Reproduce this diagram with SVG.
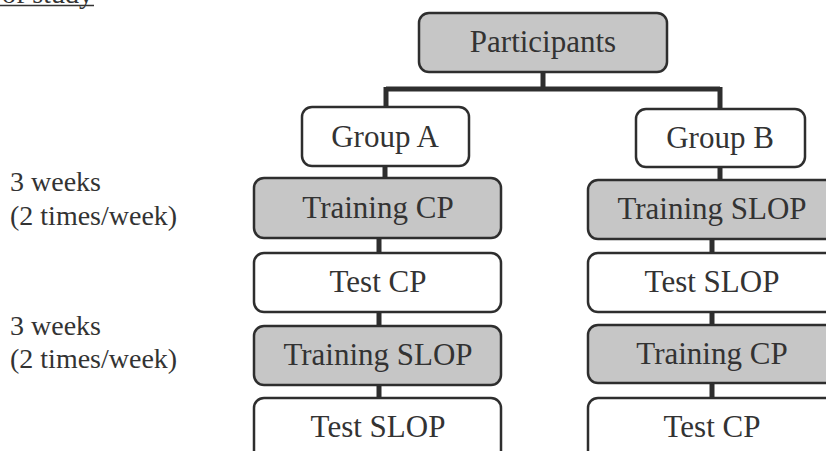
<svg xmlns="http://www.w3.org/2000/svg" width="826" height="451" viewBox="0 0 826 451">
<style>
.box{stroke:#2e2e2e;stroke-width:2.5}
.g{fill:#c6c6c6}
.w{fill:#ffffff}
.t{font-family:"Liberation Serif","Times New Roman",serif;font-size:31px;fill:#333;text-anchor:middle}
.lbl{font-family:"Liberation Serif","Times New Roman",serif;font-size:28px;fill:#333}
.c{stroke:#2e2e2e;fill:none}
</style>
<rect width="826" height="451" fill="#fff"/>
<g id="caption">
<text class="lbl" x="2" y="3">of study</text>
<line x1="0" y1="5.5" x2="94" y2="5.5" stroke="#333" stroke-width="1.5"/>
</g>
<g id="labels">
<text class="lbl" x="10" y="191">3 weeks</text>
<text class="lbl" x="10" y="225">(2 times/week)</text>
<text class="lbl" x="10" y="335">3 weeks</text>
<text class="lbl" x="10" y="368">(2 times/week)</text>
</g>
<g id="connectors">
<path class="c" stroke-width="5" d="M543 72V89M386 89H720M386 87V107M720 87V109"/>
<path class="c" stroke-width="5" d="M385 166V178M379 238V253M379 312V326M379 385V398"/>
<path class="c" stroke-width="5" d="M720 167V180M712 239V253M712 312V325M712 383V398"/>
</g>
<g id="participants">
<rect class="box g" x="419" y="13" width="248" height="59" rx="10"/>
<text class="t" x="543" y="52">Participants</text>
</g>
<g id="groupA">
<rect class="box w" x="302" y="107" width="167" height="59" rx="10"/>
<text class="t" x="385" y="147">Group A</text>
</g>
<g id="groupB">
<rect class="box w" x="636" y="109" width="169" height="58" rx="10"/>
<text class="t" x="720" y="148">Group B</text>
</g>
<g id="a-training-cp">
<rect class="box g" x="254" y="178" width="247" height="60" rx="10"/>
<text class="t" x="378" y="218">Training CP</text>
</g>
<g id="a-test-cp">
<rect class="box w" x="254" y="253" width="247" height="59" rx="10"/>
<text class="t" x="378" y="292">Test CP</text>
</g>
<g id="a-training-slop">
<rect class="box g" x="254" y="326" width="247" height="59" rx="10"/>
<text class="t" x="378" y="365">Training SLOP</text>
</g>
<g id="a-test-slop">
<rect class="box w" x="254" y="398" width="247" height="70" rx="10"/>
<text class="t" x="378" y="437">Test SLOP</text>
</g>
<g id="b-training-slop">
<rect class="box g" x="588" y="180" width="248" height="59" rx="10"/>
<text class="t" x="712" y="219">Training SLOP</text>
</g>
<g id="b-test-slop">
<rect class="box w" x="588" y="253" width="248" height="59" rx="10"/>
<text class="t" x="712" y="292">Test SLOP</text>
</g>
<g id="b-training-cp">
<rect class="box g" x="588" y="325" width="248" height="58" rx="10"/>
<text class="t" x="712" y="364">Training CP</text>
</g>
<g id="b-test-cp">
<rect class="box w" x="588" y="398" width="248" height="70" rx="10"/>
<text class="t" x="712" y="437">Test CP</text>
</g>
</svg>
